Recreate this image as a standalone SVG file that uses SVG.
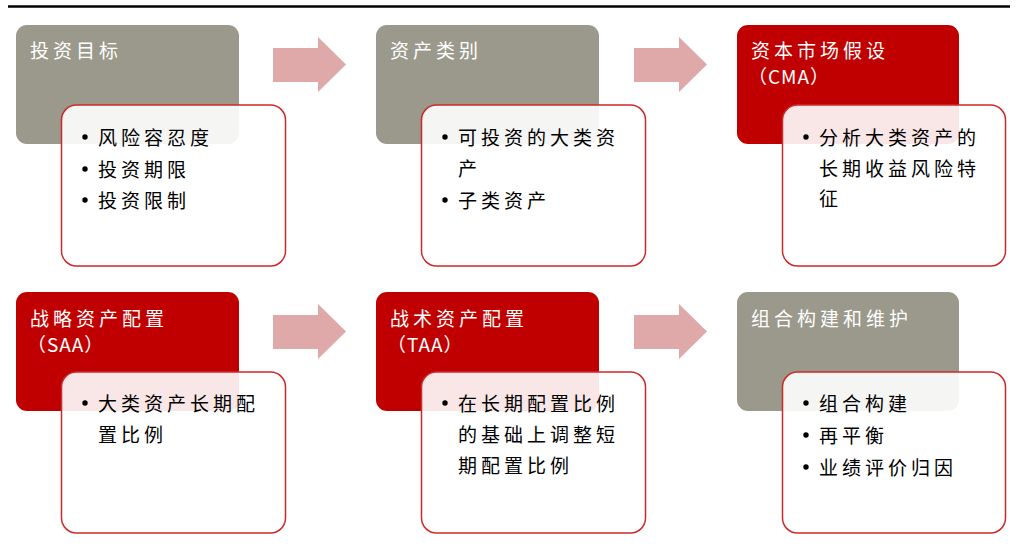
<svg xmlns="http://www.w3.org/2000/svg" width="1018" height="547" viewBox="0 0 1018 547">
<style>
.gray{fill:#9a998b}
.red{fill:#c00000}
.card{fill:#ffffff;fill-opacity:0.9;stroke:#cc2a2a;stroke-width:1.5}
.arrow{fill:#dfa9a9}
.h{font-family:"Noto Sans CJK SC","Liberation Sans",sans-serif;font-size:19px;letter-spacing:4px;fill:#ffffff}
.l{letter-spacing:1px}
.t{font-family:"Noto Sans CJK SC","Liberation Sans",sans-serif;font-size:19px;letter-spacing:4px;fill:#000000}
.b{fill:#000000}
</style>
<line x1="8" y1="6.5" x2="1010" y2="6.5" stroke="#000" stroke-width="2.5"/>
<g id="connectors">
<path class="arrow" d="M273,48 H318 V37 L346,64.5 L318,92 V82 H273 Z"/>
<path class="arrow" d="M634,48 H679 V37 L707,64.5 L679,92 V82 H634 Z"/>
<path class="arrow" d="M273,315 H318 V304 L346,331.5 L318,359 V349 H273 Z"/>
<path class="arrow" d="M634,315 H679 V304 L707,331.5 L679,359 V349 H634 Z"/>
</g>
<g id="node1">
<rect class="gray" x="16" y="25" width="223" height="119" rx="11"/>
<text class="h" x="30" y="58">投资目标</text>
<rect class="card" x="61.5" y="105" width="224" height="161" rx="15"/>
<circle class="b" cx="85" cy="137" r="2.7"/><text class="t" x="98" y="145">风险容忍度</text>
<circle class="b" cx="85" cy="169" r="2.7"/><text class="t" x="98" y="177">投资期限</text>
<circle class="b" cx="85" cy="200" r="2.7"/><text class="t" x="98" y="208">投资限制</text>
</g>
<g id="node2">
<rect class="gray" x="376" y="25" width="223" height="119" rx="11"/>
<text class="h" x="390" y="58">资产类别</text>
<rect class="card" x="421.5" y="105" width="224" height="161" rx="15"/>
<circle class="b" cx="445" cy="137" r="2.7"/><text class="t" x="458" y="145">可投资的大类资</text>
<text class="t" x="458" y="176">产</text>
<circle class="b" cx="445" cy="200" r="2.7"/><text class="t" x="458" y="208">子类资产</text>
</g>
<g id="node3">
<rect class="red" x="737" y="25" width="222" height="119" rx="11"/>
<text class="h" x="751" y="58">资本市场假设</text>
<text class="h l" x="748" y="84">（CMA）</text>
<rect class="card" x="782.5" y="105" width="223" height="161" rx="15"/>
<circle class="b" cx="806" cy="137" r="2.7"/><text class="t" x="819" y="145">分析大类资产的</text>
<text class="t" x="819" y="176">长期收益风险特</text>
<text class="t" x="819" y="206">征</text>
</g>
<g id="node4">
<rect class="red" x="16" y="292" width="223" height="119" rx="11"/>
<text class="h" x="30" y="326">战略资产配置</text>
<text class="h l" x="27" y="352">（SAA）</text>
<rect class="card" x="61.5" y="372" width="224" height="161" rx="15"/>
<circle class="b" cx="85" cy="403" r="2.7"/><text class="t" x="98" y="411">大类资产长期配</text>
<text class="t" x="98" y="442">置比例</text>
</g>
<g id="node5">
<rect class="red" x="376" y="292" width="223" height="119" rx="11"/>
<text class="h" x="390" y="326">战术资产配置</text>
<text class="h l" x="387" y="352">（TAA）</text>
<rect class="card" x="421.5" y="372" width="224" height="161" rx="15"/>
<circle class="b" cx="445" cy="403" r="2.7"/><text class="t" x="458" y="411">在长期配置比例</text>
<text class="t" x="458" y="442">的基础上调整短</text>
<text class="t" x="458" y="473">期配置比例</text>
</g>
<g id="node6">
<rect class="gray" x="737" y="292" width="222" height="119" rx="11"/>
<text class="h" x="751" y="326">组合构建和维护</text>
<rect class="card" x="782.5" y="372" width="223" height="161" rx="15"/>
<circle class="b" cx="806" cy="403" r="2.7"/><text class="t" x="819" y="411">组合构建</text>
<circle class="b" cx="806" cy="435" r="2.7"/><text class="t" x="819" y="443">再平衡</text>
<circle class="b" cx="806" cy="467" r="2.7"/><text class="t" x="819" y="475">业绩评价归因</text>
</g>
</svg>
